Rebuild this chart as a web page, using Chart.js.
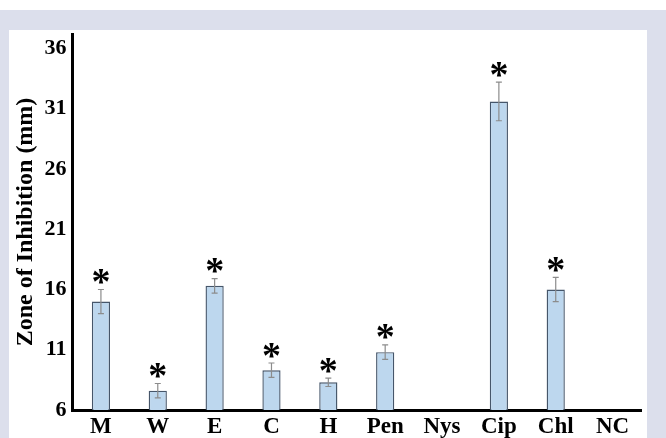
<!DOCTYPE html>
<html>
<head>
<meta charset="utf-8">
<script src="https://cdn.jsdelivr.net/npm/chart.js@4/dist/chart.umd.min.js"></script>
<style>
  html, body { margin: 0; padding: 0; background: #ffffff; }
  #frame {
    position: absolute; left: 0; top: 10px; width: 666px; height: 428px;
    background: #dcdfec;
  }
  #panel {
    position: absolute; left: 9px; top: 30px; width: 638px; height: 408px;
    background: #ffffff;
  }
  #chart { position: absolute; left: 0; top: 0; }
</style>
</head>
<body>
<div id="frame"></div>
<div id="panel"></div>
<canvas id="chart" width="666" height="438"></canvas>
<script>
// Zone of inhibition per treatment (mm), mean and standard error
const categories = ['M', 'W', 'E', 'C', 'H', 'Pen', 'Nys', 'Cip', 'Chl', 'NC'];
const zoneMeans  = [15.0, 7.6, 16.3, 9.3, 8.3, 10.8, null, 31.6, 16.0, null];
const zoneErrors = [1.0, 0.6, 0.6, 0.6, 0.35, 0.6, null, 1.6, 1.0, null];
const significant = [true, true, true, true, true, true, false, true, true, false];
const yTicks = [6, 11, 16, 21, 26, 31, 36];

const serif = '"Liberation Serif", "Times New Roman", serif';

// Error bars with caps, then a significance asterisk above each marked bar
const errorBarPlugin = {
  id: 'errorBars',
  afterDatasetsDraw(chart) {
    const { ctx, scales: { x, y } } = chart;
    ctx.save();
    zoneMeans.forEach((v, i) => {
      if (v === null) return;
      const cx = x.getPixelForValue(i);
      const e = zoneErrors[i] || 0;
      const yt = y.getPixelForValue(v + e);
      const yb = y.getPixelForValue(v - e);
      ctx.strokeStyle = '#8c8c8c';
      ctx.lineWidth = 1.2;
      ctx.beginPath();
      ctx.moveTo(cx, yt); ctx.lineTo(cx, yb);
      ctx.moveTo(cx - 3, yt); ctx.lineTo(cx + 3, yt);
      ctx.moveTo(cx - 3, yb); ctx.lineTo(cx + 3, yb);
      ctx.stroke();
      if (significant[i]) {
        ctx.font = 'bold 38px ' + serif;
        ctx.fillStyle = '#000000';
        ctx.textAlign = 'center';
        ctx.textBaseline = 'alphabetic';
        const m = ctx.measureText('*');
        const off = (m.actualBoundingBoxAscent - m.actualBoundingBoxDescent) / 2;
        ctx.fillText('*', cx, yt - 13 + off);
      }
    });
    ctx.restore();
  }
};

new Chart(document.getElementById('chart'), {
  type: 'bar',
  data: {
    labels: categories,
    datasets: [{
      data: zoneMeans,
      backgroundColor: '#bdd7ee',
      borderColor: '#46566a',
      borderWidth: 1.4,
      barPercentage: 0.32,
      categoryPercentage: 1.0
    }]
  },
  options: {
    responsive: false,
    animation: false,
    devicePixelRatio: 1,
    layout: { padding: { left: 10, right: 25, top: 34, bottom: 0 } },
    plugins: { legend: { display: false }, tooltip: { enabled: false } },
    scales: {
      x: {
        grid: { display: false, drawTicks: false },
        border: { display: true, color: '#000000', width: 3 },
        ticks: {
          color: '#000000',
          padding: 3,
          maxRotation: 0,
          font: { family: serif, size: 23, weight: 'bold' }
        },
        afterFit(scale) { scale.height = 28; }
      },
      y: {
        min: 6,
        max: 37.2,
        grid: { display: false, drawTicks: false },
        border: { display: true, color: '#000000', width: 3 },
        ticks: {
          color: '#000000',
          padding: 6,
          font: { family: serif, size: 22, weight: 'bold' }
        },
        afterBuildTicks(scale) { scale.ticks = yTicks.map(v => ({ value: v })); },
        title: {
          display: true,
          text: 'Zone of Inhibition (mm)',
          color: '#000000',
          padding: { top: 1, bottom: 0 },
          font: { family: serif, size: 24, weight: 'bold' }
        },
        afterFit(scale) { scale.width = 62.5; }
      }
    }
  },
  plugins: [errorBarPlugin]
});
</script>
</body>
</html>
